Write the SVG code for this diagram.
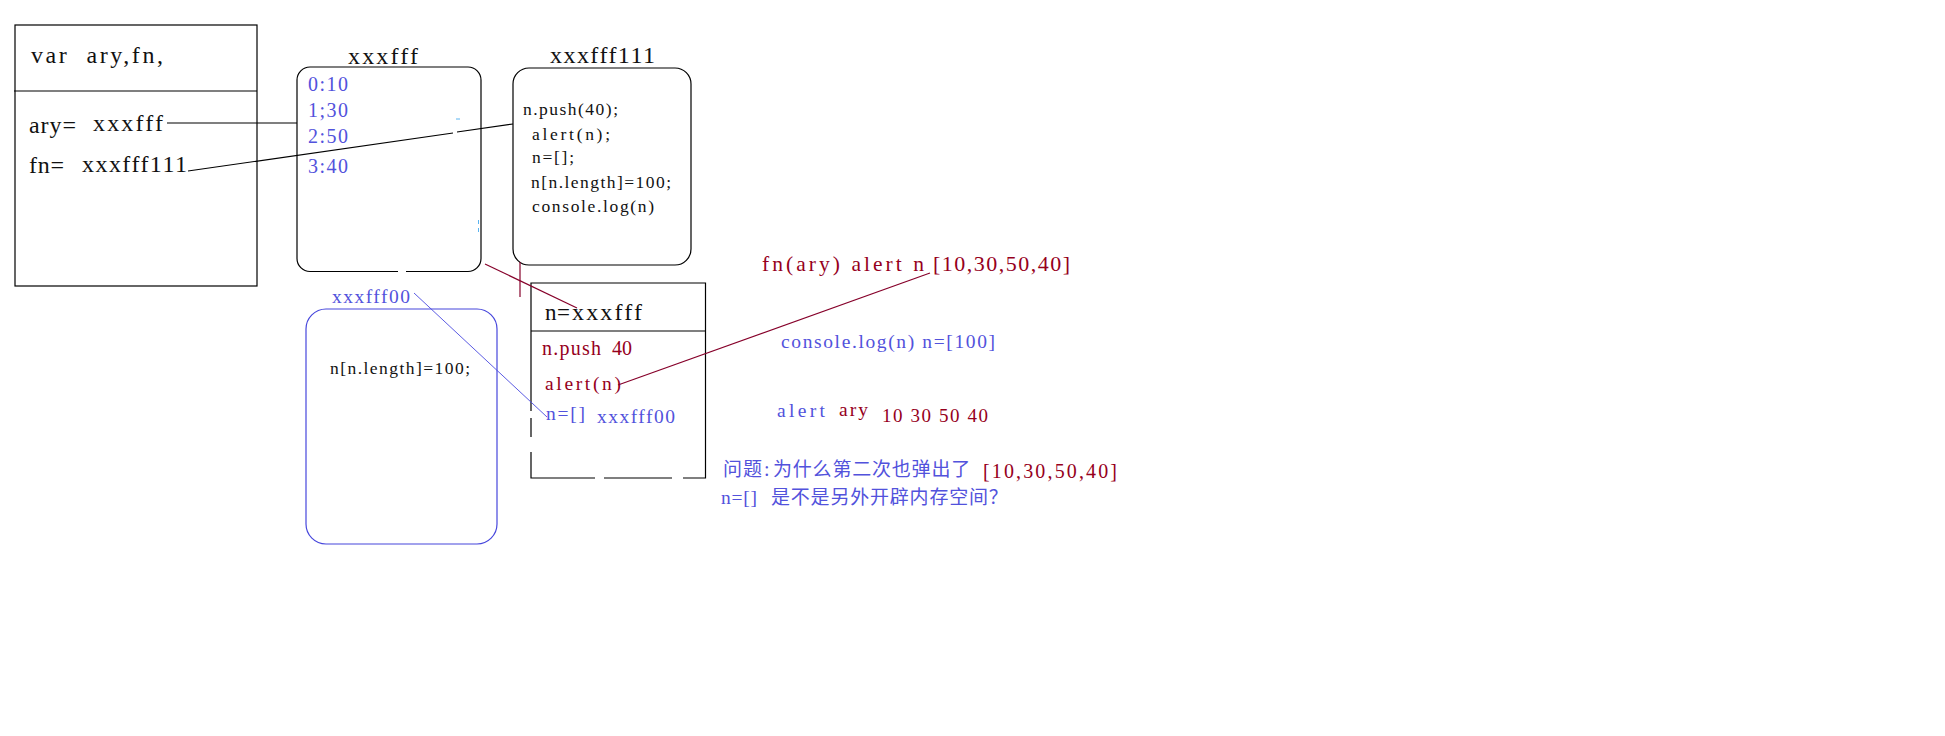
<svg xmlns="http://www.w3.org/2000/svg" width="1945" height="736" viewBox="0 0 1945 736">
  <style>
    .sf { font-family: "Liberation Serif", "DejaVu Serif", serif; }
    .cjk { font-family: "Noto Sans CJK SC", "Liberation Sans", sans-serif; }
    .blk { fill: #111111; }
    .blu { fill: #5252dc; }
    .red { fill: #96001c; }
    .box { fill: none; stroke: #000000; stroke-width: 1.2; }
    .bbox { fill: none; stroke: #4646dc; stroke-width: 1.2; }
    .ln { fill: none; stroke: #000000; stroke-width: 1.2; }
    .rln { fill: none; stroke: #86002a; stroke-width: 1.2; }
    .bln { fill: none; stroke: #4a4ae0; stroke-width: 0.9; }
    .tick { fill: none; stroke: #5ab4f0; stroke-width: 1; }
  </style>
  <rect width="1945" height="736" fill="#ffffff"/>

  <!-- scope: variable declarations -->
  <g id="scope">
    <rect class="box" x="15" y="25" width="242" height="261"/>
    <line class="ln" x1="14" y1="91" x2="257" y2="91"/>
    <text class="sf blk" x="31" y="63" font-size="24" textLength="132" lengthAdjust="spacing" xml:space="preserve">var  ary,fn,</text>
    <text class="sf blk" x="29" y="133" font-size="24" textLength="47" lengthAdjust="spacing">ary=</text>
    <text class="sf blk" x="93" y="131" font-size="24" textLength="70" lengthAdjust="spacing">xxxfff</text>
    <text class="sf blk" x="29" y="173" font-size="24" textLength="35" lengthAdjust="spacing">fn=</text>
    <text class="sf blk" x="82" y="172" font-size="24" textLength="105" lengthAdjust="spacing">xxxfff111</text>
  </g>

  <!-- heap object xxxfff (array) -->
  <g id="heap-array">
    <text class="sf blk" x="348" y="64" font-size="24" textLength="70" lengthAdjust="spacing">xxxfff</text>
    <path class="box" d="M406,271.5 H468 A13,13 0 0 0 481,258.5 V80 A13,13 0 0 0 468,67 H310 A13,13 0 0 0 297,80 V258.5 A13,13 0 0 0 310,271.5 H398"/>
    <text class="sf blu" x="308" y="91" font-size="20" textLength="40" lengthAdjust="spacing">0:10</text>
    <text class="sf blu" x="308" y="117" font-size="20" textLength="40" lengthAdjust="spacing">1;30</text>
    <text class="sf blu" x="308" y="143" font-size="20" textLength="40" lengthAdjust="spacing">2:50</text>
    <text class="sf blu" x="308" y="173" font-size="20" textLength="40" lengthAdjust="spacing">3:40</text>
    <line class="tick" x1="456" y1="119" x2="460" y2="119"/>
    <line class="tick" x1="478.5" y1="220" x2="478.5" y2="224"/>
    <line class="tick" x1="478.5" y1="228" x2="478.5" y2="232"/>
  </g>

  <!-- heap object xxxfff111 (function body) -->
  <g id="heap-function">
    <text class="sf blk" x="550" y="63" font-size="24" textLength="105" lengthAdjust="spacing">xxxfff111</text>
    <rect class="box" x="513" y="68" width="178" height="197" rx="16" ry="16"/>
    <text class="sf blk" x="523" y="115" font-size="17.5" textLength="95" lengthAdjust="spacing">n.push(40);</text>
    <text class="sf blk" x="532" y="140" font-size="17.5" textLength="78" lengthAdjust="spacing">alert(n);</text>
    <text class="sf blk" x="532" y="163" font-size="17.5" textLength="42" lengthAdjust="spacing">n=[];</text>
    <text class="sf blk" x="531" y="188" font-size="17.5" textLength="140" lengthAdjust="spacing">n[n.length]=100;</text>
    <text class="sf blk" x="532" y="212" font-size="17.5" textLength="122" lengthAdjust="spacing">console.log(n)</text>
  </g>

  <!-- heap object xxxfff00 (new array) -->
  <g id="heap-new-array">
    <text class="sf blu" x="332" y="303" font-size="19.5" textLength="78" lengthAdjust="spacing">xxxfff00</text>
    <rect class="bbox" x="306" y="309" width="191" height="235" rx="20" ry="20"/>
    <text class="sf blk" x="330" y="374" font-size="17.5" textLength="140" lengthAdjust="spacing">n[n.length]=100;</text>
  </g>

  <!-- private scope of fn(ary) -->
  <g id="call-scope">
    <path class="box" d="M531,411 V283 H705.5 V478 H683 M672,478 H604 M595,478 H531 V452 M531,437 V418"/>
    <line class="ln" x1="531" y1="331" x2="705" y2="331"/>
    <text class="sf blk" x="545" y="320" font-size="23" textLength="25" lengthAdjust="spacing">n=</text>
    <text class="sf blk" x="572" y="320" font-size="24" textLength="70" lengthAdjust="spacing">xxxfff</text>
    <text class="sf red" x="542" y="355" font-size="20" textLength="59" lengthAdjust="spacing">n.push</text>
    <text class="sf red" x="612" y="355" font-size="20">40</text>
    <text class="sf red" x="545" y="390" font-size="19.5" textLength="76" lengthAdjust="spacing">alert(n)</text>
    <text class="sf blu" x="546" y="420" font-size="19.5" textLength="39" lengthAdjust="spacing">n=[]</text>
    <text class="sf blu" x="597" y="423" font-size="19.5" textLength="78" lengthAdjust="spacing">xxxfff00</text>
  </g>

  <!-- notes -->
  <g id="notes">
    <text class="sf red" x="762" y="271" font-size="21.5" textLength="162" lengthAdjust="spacing" xml:space="preserve">fn(ary) alert n</text>
    <text class="sf red" x="933" y="271" font-size="22" textLength="137" lengthAdjust="spacing">[10,30,50,40]</text>
    <text class="sf blu" x="781" y="348" font-size="19.5" textLength="214" lengthAdjust="spacing" xml:space="preserve">console.log(n) n=[100]</text>
    <text class="sf blu" x="777" y="417" font-size="19.5" textLength="48" lengthAdjust="spacing">alert</text>
    <text class="sf red" x="839" y="416" font-size="19.5" textLength="29" lengthAdjust="spacing">ary</text>
    <text class="sf red" x="882" y="422" font-size="19" textLength="106" lengthAdjust="spacing" xml:space="preserve">10 30 50 40</text>
    <text class="cjk blu" x="723" y="476" font-size="19" letter-spacing="1">问题</text>
    <text class="sf blu" x="764" y="476" font-size="20">:</text>
    <text class="cjk blu" x="773" y="476" font-size="19" letter-spacing="0.8">为什么第二次也弹出了</text>
    <text class="sf red" x="983" y="478" font-size="20" textLength="134" lengthAdjust="spacing">[10,30,50,40]</text>
    <text class="sf blu" x="721" y="504" font-size="19.5" textLength="36" lengthAdjust="spacing">n=[]</text>
    <text class="cjk blu" x="771" y="504" font-size="19" letter-spacing="0.8">是不是另外开辟内存空间？</text>
  </g>

  <!-- connectors -->
  <g id="connectors">
    <line class="ln" x1="167" y1="123" x2="297" y2="123"/>
    <line class="ln" x1="188" y1="171" x2="453" y2="133"/>
    <line class="ln" x1="457" y1="132" x2="513" y2="124"/>
    <line class="rln" x1="520" y1="262" x2="520" y2="297"/>
    <line class="rln" x1="485" y1="264" x2="577" y2="308"/>
    <line class="rln" x1="618" y1="385" x2="930" y2="273"/>
    <line class="bln" x1="414" y1="293" x2="547" y2="417"/>
  </g>
</svg>
